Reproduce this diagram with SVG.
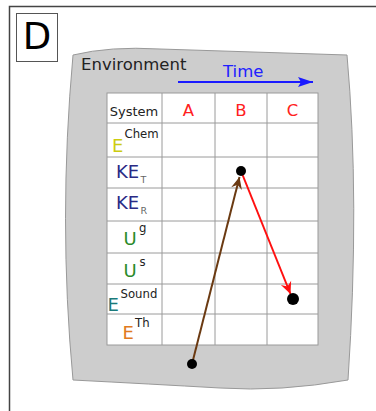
<svg xmlns="http://www.w3.org/2000/svg" width="376" height="411" viewBox="0 0 376 411">
<defs>
<style>
text{font-family:"DejaVu Sans","Liberation Sans",sans-serif}
.grid{stroke:#9a9a9a;stroke-width:1;fill:none}
.hdr{font-size:16.5px;fill:#ff2020;text-anchor:middle}
.big{font-size:18px}
.sup{font-size:11.7px;fill:#222}
.sub{font-size:9.5px;fill:#666}
</style>
<marker id="ab" markerUnits="userSpaceOnUse" markerWidth="16" markerHeight="16" refX="0" refY="0" viewBox="-14 -7 16 14" orient="auto">
<path d="M0,0 L-12,-5.5 L-8,0 L-12,5.5 z" fill="#6b3a12"/>
</marker>
<marker id="ar" markerUnits="userSpaceOnUse" markerWidth="16" markerHeight="16" refX="0" refY="0" viewBox="-14 -7 16 14" orient="auto">
<path d="M0,0 L-12,-5.5 L-8,0 L-12,5.5 z" fill="#ff1010"/>
</marker>
<marker id="at" markerUnits="userSpaceOnUse" markerWidth="18" markerHeight="16" refX="0" refY="0" viewBox="-16 -7 18 14" orient="auto">
<path d="M0,0 L-15,-5 L-12,0 L-15,5 z" fill="#1a1aff"/>
</marker>
</defs>
<rect x="0" y="0" width="376" height="411" fill="#fff"/>
<path d="M9.5,420 V6.5 H380" fill="none" stroke="#444" stroke-width="1.5"/>
<g id="label-D">
<rect x="16.5" y="13.5" width="41" height="48" fill="#fff" stroke="#555" stroke-width="1"/>
<text x="37" y="48.5" font-size="37" text-anchor="middle" fill="#000">D</text>
</g>
<g id="environment">
<path d="M73,55 Q110,46 160,49 L347,55 Q360,200 348,380 Q280,392 220,388 Q150,384 73,380 Q58,220 73,55 Z" fill="#cdcdcd" stroke="#999" stroke-width="1"/>
<text x="81" y="70" font-size="16.5" fill="#222">Environment</text>
</g>
<g id="time">
<text x="223" y="77" font-size="16.5" fill="#2020ff">Time</text>
<line x1="178" y1="82" x2="313" y2="82" stroke="#1a1aff" stroke-width="2" marker-end="url(#at)"/>
</g>
<g id="table">
<rect x="107" y="93" width="211" height="252" fill="#fff"/>
<g class="grid">
<rect x="107" y="93" width="211" height="252"/>
<path d="M162,93V345M215,93V345M267,93V345M107,123H318M107,157H318M107,188H318M107,221H318M107,253H318M107,284H318M107,314H318"/>
</g>
<text x="134" y="116" font-size="13" fill="#222" text-anchor="middle">System</text>
<text class="hdr" x="188.5" y="116">A</text>
<text class="hdr" x="241" y="116">B</text>
<text class="hdr" x="292.5" y="116">C</text>
</g>
<g id="row-echem"><text x="112" y="152" class="big" fill="#cccc10">E</text><text x="124.5" y="138" class="sup">Chem</text></g>
<g id="row-ket"><text x="116" y="178" class="big" fill="#2a2a85">KE</text><text x="140.5" y="183" class="sub">T</text></g>
<g id="row-ker"><text x="116" y="209" class="big" fill="#2a2a85">KE</text><text x="140.5" y="214" class="sub">R</text></g>
<g id="row-ug"><text x="123.5" y="245" class="big" fill="#2a8a2a">U</text><text x="139" y="232" class="sup">g</text></g>
<g id="row-us"><text x="123.5" y="277" class="big" fill="#2a8a2a">U</text><text x="139.5" y="266" class="sup">s</text></g>
<g id="row-esound"><text x="107.5" y="311" class="big" fill="#1a7a7a">E</text><text x="120.5" y="298" class="sup">Sound</text></g>
<g id="row-eth"><text x="122.5" y="339" class="big" fill="#e07a20">E</text><text x="135" y="327" class="sup">Th</text></g>
<g id="connectors">
<line x1="192" y1="364" x2="239.5" y2="177" stroke="#6b3a12" stroke-width="2" marker-end="url(#ab)"/>
<line x1="241" y1="171" x2="290.5" y2="294" stroke="#ff1010" stroke-width="2" marker-end="url(#ar)"/>
</g>
<g id="dot-start"><circle cx="192" cy="364" r="5" fill="#000"/></g>
<g id="dot-ket"><circle cx="241" cy="171" r="5" fill="#000"/></g>
<g id="dot-sound"><circle cx="293" cy="299" r="6" fill="#000"/></g>
</svg>
